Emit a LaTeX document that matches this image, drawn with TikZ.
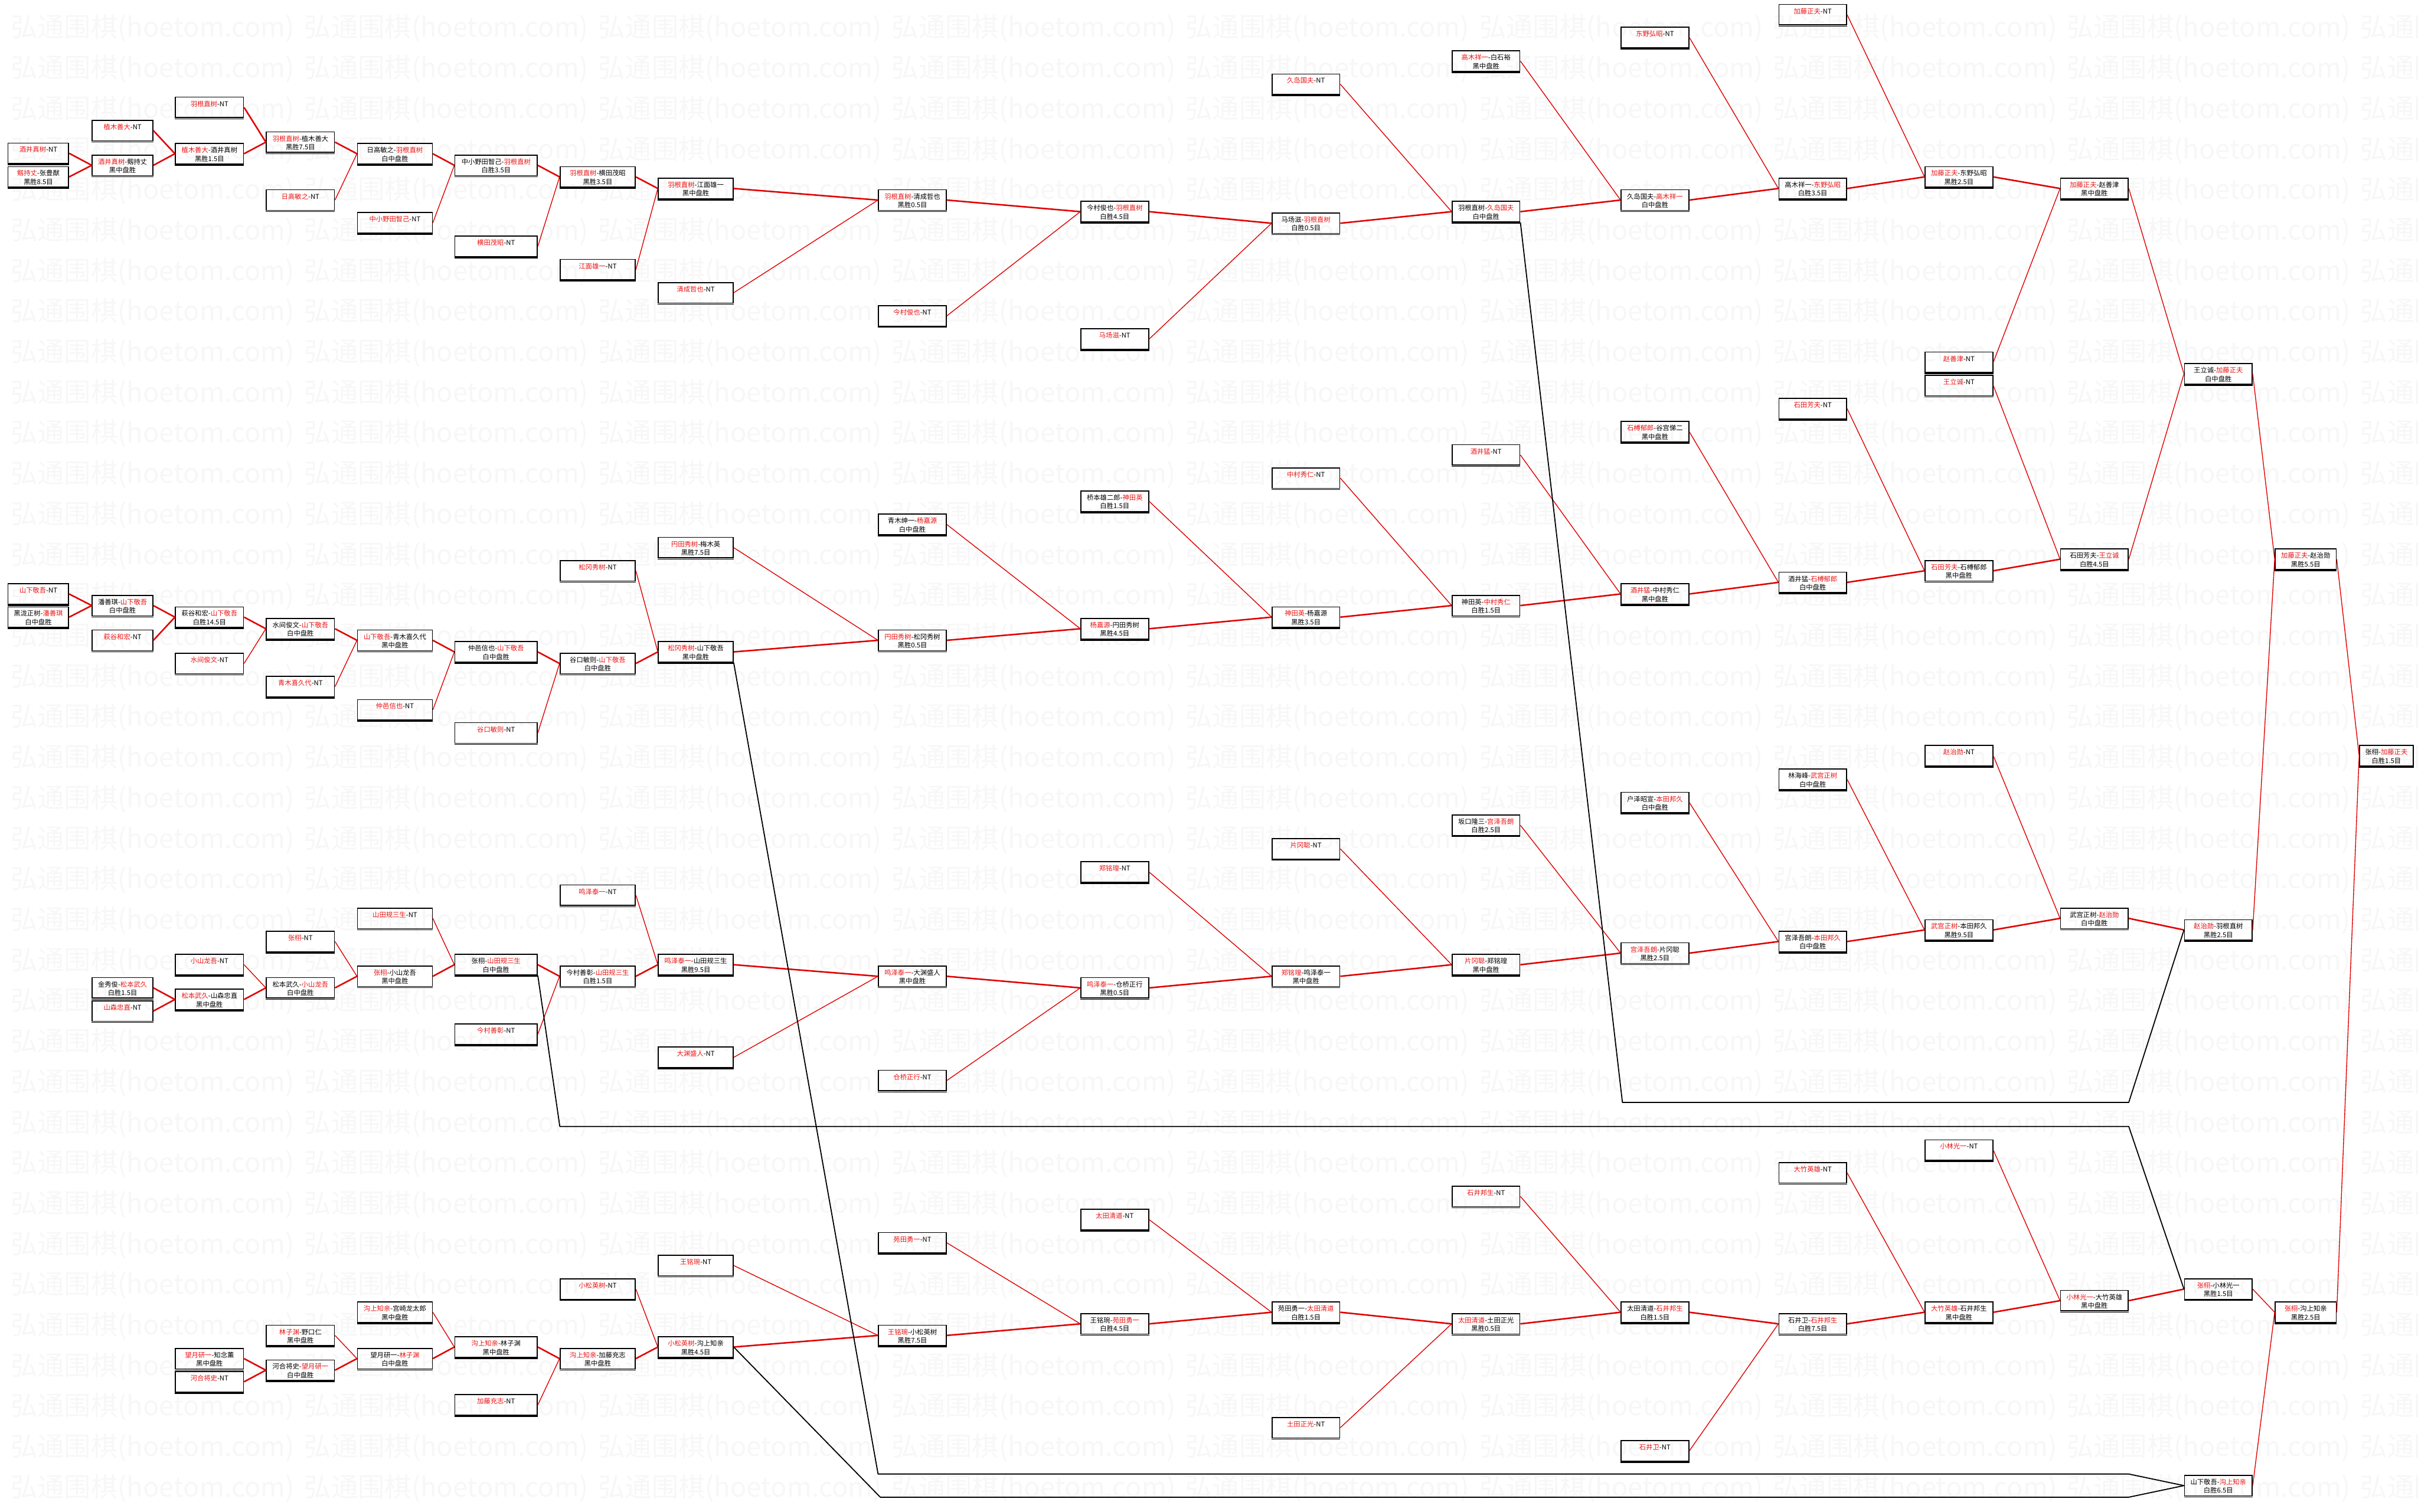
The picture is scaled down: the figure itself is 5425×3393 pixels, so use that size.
\documentclass[tikz,border=0pt]{standalone}
\usepackage{fontspec}
\newfontfamily\cjk{Noto Sans CJK SC}
\definecolor{wred}{RGB}{235,20,20}
\definecolor{lred}{RGB}{225,0,0}
\tikzset{
 gbox/.style={draw=black, line width=2.2pt, minimum height=46pt, inner sep=0pt, align=center,
   font=\cjk\fontsize{15}{19}\selectfont},
 thk/.style={draw=lred, line width=3.4pt},
 thn/.style={draw=lred, line width=1.8pt},
 lose/.style={draw=black, line width=2.4pt, line join=round},
 wm/.style={font=\cjk\fontsize{60}{60}\selectfont, text=black, opacity=0.032, inner sep=0pt, anchor=west},
}
\newcommand\R[1]{\textcolor{wred}{#1}}
\newcommand\G[6]{%
 \node[gbox, minimum width=#4pt] (#1) at (#2,#3) {\rule{0pt}{20pt}#5\\\strut #6};
 \draw[line width=2pt] ([yshift=-1.6pt]#1.south west) -- ([yshift=-1.6pt]#1.south east);}
\newcommand\E[3]{\draw[#1] (#2.east) -- (#3.west);}
\begin{document}
\begin{tikzpicture}[x=1pt,y=-1pt]
\useasboundingbox[fill=white] (0,0) rectangle (5425,3393);
% watermark
\foreach \k in {0,...,37} {\foreach \j in {0,...,8} {\node[wm] at (24+659*\j,64+91*\k) {弘通围棋(hoetom.com)};}}
% ---- top section
\G{n1}{86}{344}{136}{\R{酒井真树}-NT}{}
\G{n2}{86}{397}{136}{\R{剱持丈}-张豊猷}{黑胜8.5目}
\G{n3}{275}{293}{136}{\R{植木善大}-NT}{}
\G{n4}{275}{371}{136}{\R{酒井真树}-剱持丈}{黑中盘胜}
\G{n5}{470}{241}{153}{\R{羽根直树}-NT}{}
\G{n6}{470}{345}{153}{\R{植木善大}-酒井真树}{黑胜1.5目}
\G{n7}{674}{319}{153}{\R{羽根直树}-植木善大}{黑胜7.5目}
\G{n8}{674}{449}{153}{\R{日高敏之}-NT}{}
\G{n9}{886}{345}{168}{日高敏之-\R{羽根直树}}{白中盘胜}
\G{n10}{886}{500}{168}{\R{中小野田智己}-NT}{}
\G{n11}{1113}{371}{185}{中小野田智己-\R{羽根直树}}{白胜3.5目}
\G{n12}{1113}{553}{185}{\R{横田茂昭}-NT}{}
\G{n13}{1341}{397}{169}{\R{羽根直树}-横田茂昭}{黑胜3.5目}
\G{n14}{1341}{605}{169}{\R{江面雄一}-NT}{}
\G{n15}{1561}{423}{168}{\R{羽根直树}-江面雄一}{黑中盘胜}
\G{n16}{1561}{657}{168}{\R{清成哲也}-NT}{}
\G{n17}{2047}{449}{152}{\R{羽根直树}-清成哲也}{黑胜0.5目}
\G{n18}{2047}{709}{152}{\R{今村俊也}-NT}{}
\G{n19}{2501}{475}{152}{今村俊也-\R{羽根直树}}{白胜4.5目}
\G{n20}{2501}{761}{152}{\R{马场滋}-NT}{}
\G{n21}{2930}{501}{152}{马场滋-\R{羽根直树}}{白胜0.5目}
\G{n22}{2930}{189}{152}{\R{久岛国夫}-NT}{}
\G{n23}{3334}{475}{152}{羽根直树-\R{久岛国夫}}{白中盘胜}
\G{n24}{3334}{137}{152}{\R{高木祥一}-白石裕}{黑中盘胜}
\G{n25}{3713}{449}{152}{久岛国夫-\R{高木祥一}}{白中盘胜}
\G{n26}{3713}{84}{152}{\R{东野弘昭}-NT}{}
\G{n27}{4067}{423}{152}{高木祥一-\R{东野弘昭}}{白胜3.5目}
\G{n28}{4067}{33}{152}{\R{加藤正夫}-NT}{}
\G{n29}{4395}{397}{152}{\R{加藤正夫}-东野弘昭}{黑胜2.5目}
\G{n30}{4699}{423}{152}{\R{加藤正夫}-赵善津}{黑中盘胜}
\G{n31}{4395}{813}{152}{\R{赵善津}-NT}{}
\G{n32}{4395}{865}{152}{\R{王立诚}-NT}{}
\G{n33}{4977}{839}{152}{王立诚-\R{加藤正夫}}{白中盘胜}
\G{n34}{4067}{917}{152}{\R{石田芳夫}-NT}{}
\G{n35}{3713}{969}{152}{\R{石榑郁郎}-谷宫悌二}{黑中盘胜}
\G{n36}{3334}{1021}{152}{\R{酒井猛}-NT}{}
\G{n37}{4699}{1255}{152}{石田芳夫-\R{王立诚}}{白胜4.5目}
\G{n38}{5173}{1255}{137}{\R{加藤正夫}-赵治勋}{黑胜5.5目}
\G{n39}{4395}{1281}{152}{\R{石田芳夫}-石榑郁郎}{黑中盘胜}
\G{n40}{4067}{1307}{152}{酒井猛-\R{石榑郁郎}}{白中盘胜}
\G{n41}{3713}{1333}{152}{\R{酒井猛}-中村秀仁}{黑中盘胜}
\G{n42}{3334}{1359}{152}{神田英-\R{中村秀仁}}{白胜1.5目}
\G{n43}{5354}{1696}{120}{张栩-\R{加藤正夫}}{白胜1.5目}
\G{n44}{2930}{1073}{152}{\R{中村秀仁}-NT}{}
\G{n45}{2501}{1125}{152}{桥本雄二郎-\R{神田英}}{白胜1.5目}
\G{n46}{2047}{1177}{152}{青木绅一-\R{杨嘉源}}{白中盘胜}
\G{n47}{2930}{1385}{152}{\R{神田英}-杨嘉源}{黑胜3.5目}
\G{n48}{2501}{1411}{152}{\R{杨嘉源}-円田秀树}{黑胜4.5目}
\G{n49}{2047}{1437}{152}{\R{円田秀树}-松冈秀树}{黑胜0.5目}
\G{n50}{1561}{1229}{168}{\R{円田秀树}-梅木英}{黑胜7.5目}
% ---- middle-left
\G{m1}{86}{1333}{136}{\R{山下敬吾}-NT}{}
\G{m2}{86}{1385}{136}{黑泷正树-\R{潘善琪}}{白中盘胜}
\G{m3}{275}{1359}{136}{潘善琪-\R{山下敬吾}}{白中盘胜}
\G{m4}{275}{1437}{136}{\R{萩谷和宏}-NT}{}
\G{m5}{470}{1385}{153}{萩谷和宏-\R{山下敬吾}}{白胜14.5目}
\G{m6}{470}{1489}{153}{\R{水间俊文}-NT}{}
\G{m7}{674}{1411}{153}{水间俊文-\R{山下敬吾}}{白中盘胜}
\G{m8}{674}{1541}{153}{\R{青木喜久代}-NT}{}
\G{m9}{886}{1437}{168}{\R{山下敬吾}-青木喜久代}{黑中盘胜}
\G{m10}{886}{1593}{168}{\R{仲邑信也}-NT}{}
\G{m11}{1113}{1463}{185}{仲邑信也-\R{山下敬吾}}{白中盘胜}
\G{m12}{1113}{1645}{185}{\R{谷口敏则}-NT}{}
\G{m13}{1341}{1489}{169}{谷口敏则-\R{山下敬吾}}{白中盘胜}
\G{m14}{1341}{1281}{169}{\R{松冈秀树}-NT}{}
\G{m15}{1561}{1463}{168}{\R{松冈秀树}-山下敬吾}{黑中盘胜}
% ---- lower-middle
\G{l1}{275}{2217}{136}{金秀俊-\R{松本武久}}{白胜1.5目}
\G{l2}{275}{2269}{136}{\R{山森忠直}-NT}{}
\G{l3}{470}{2165}{153}{\R{小山龙吾}-NT}{}
\G{l4}{470}{2243}{153}{\R{松本武久}-山森忠直}{黑中盘胜}
\G{l5}{674}{2113}{153}{\R{张栩}-NT}{}
\G{l6}{674}{2217}{153}{松本武久-\R{小山龙吾}}{白中盘胜}
\G{l7}{886}{2061}{168}{\R{山田规三生}-NT}{}
\G{l8}{886}{2191}{168}{\R{张栩}-小山龙吾}{黑中盘胜}
\G{l9}{1113}{2165}{185}{张栩-\R{山田规三生}}{白中盘胜}
\G{l10}{1113}{2321}{185}{\R{今村善彰}-NT}{}
\G{l11}{1341}{2191}{169}{今村善彰-\R{山田规三生}}{白胜1.5目}
\G{l12}{1341}{2009}{169}{\R{鸣泽泰一}-NT}{}
\G{l13}{1561}{2165}{168}{\R{鸣泽泰一}-山田规三生}{黑胜9.5目}
\G{l14}{1561}{2373}{168}{\R{大渊盛人}-NT}{}
\G{l15}{2047}{2191}{152}{\R{鸣泽泰一}-大渊盛人}{黑中盘胜}
\G{l16}{2047}{2425}{152}{\R{仓桥正行}-NT}{}
\G{l17}{2501}{2217}{152}{\R{鸣泽泰一}-仓桥正行}{黑胜0.5目}
\G{l18}{2501}{1957}{152}{\R{郑铭瑝}-NT}{}
\G{l19}{2930}{2191}{152}{\R{郑铭瑝}-鸣泽泰一}{黑中盘胜}
\G{l20}{2930}{1905}{152}{\R{片冈聪}-NT}{}
\G{l21}{3334}{2165}{152}{\R{片冈聪}-郑铭瑝}{黑中盘胜}
\G{l22}{3334}{1852}{152}{坂口隆三-\R{宫泽吾朗}}{白胜2.5目}
\G{l23}{3713}{2139}{152}{\R{宫泽吾朗}-片冈聪}{黑胜2.5目}
\G{l24}{3713}{1801}{152}{户泽昭宣-\R{本田邦久}}{白中盘胜}
\G{l25}{4067}{2113}{152}{宫泽吾朗-\R{本田邦久}}{白中盘胜}
\G{l26}{4067}{1749}{152}{林海峰-\R{武宫正树}}{白中盘胜}
\G{l27}{4395}{2087}{152}{\R{武宫正树}-本田邦久}{黑胜9.5目}
\G{l28}{4395}{1696}{152}{\R{赵治勋}-NT}{}
\G{l29}{4699}{2061}{152}{武宫正树-\R{赵治勋}}{白中盘胜}
\G{l30}{4977}{2087}{152}{\R{赵治勋}-羽根直树}{黑胜2.5目}
% ---- bottom
\G{b1}{470}{3049}{153}{\R{望月研一}-知念薰}{黑中盘胜}
\G{b2}{470}{3101}{153}{\R{河合将史}-NT}{}
\G{b3}{674}{2997}{153}{\R{林子渊}-野口仁}{黑中盘胜}
\G{b4}{674}{3075}{153}{河合将史-\R{望月研一}}{白中盘胜}
\G{b5}{886}{2945}{168}{\R{沟上知亲}-宫崎龙太郎}{黑中盘胜}
\G{b6}{886}{3049}{168}{望月研一-\R{林子渊}}{白中盘胜}
\G{b7}{1113}{3023}{185}{\R{沟上知亲}-林子渊}{黑中盘胜}
\G{b8}{1113}{3153}{185}{\R{加藤充志}-NT}{}
\G{b9}{1341}{2893}{169}{\R{小松英树}-NT}{}
\G{b10}{1341}{3049}{169}{\R{沟上知亲}-加藤充志}{黑中盘胜}
\G{b11}{1561}{3023}{168}{\R{小松英树}-沟上知亲}{黑胜4.5目}
\G{b12}{1561}{2840}{168}{\R{王铭琬}-NT}{}
\G{b13}{2047}{2997}{152}{\R{王铭琬}-小松英树}{黑胜7.5目}
\G{b14}{2047}{2789}{152}{\R{苑田勇一}-NT}{}
\G{b15}{2501}{2971}{152}{王铭琬-\R{苑田勇一}}{白胜4.5目}
\G{b16}{2501}{2737}{152}{\R{太田清道}-NT}{}
\G{b17}{2930}{2945}{152}{苑田勇一-\R{太田清道}}{白胜1.5目}
\G{b18}{2930}{3204}{152}{\R{土田正光}-NT}{}
\G{b19}{3334}{2971}{152}{\R{太田清道}-土田正光}{黑胜0.5目}
\G{b20}{3334}{2685}{152}{\R{石井邦生}-NT}{}
\G{b21}{3713}{2945}{152}{太田清道-\R{石井邦生}}{白胜1.5目}
\G{b22}{3713}{3256}{152}{\R{石井卫}-NT}{}
\G{b23}{4067}{2971}{152}{石井卫-\R{石井邦生}}{白胜7.5目}
\G{b24}{4067}{2632}{152}{\R{大竹英雄}-NT}{}
\G{b25}{4395}{2945}{152}{\R{大竹英雄}-石井邦生}{黑中盘胜}
\G{b26}{4395}{2581}{152}{\R{小林光一}-NT}{}
\G{b27}{4699}{2919}{152}{\R{小林光一}-大竹英雄}{黑中盘胜}
\G{b28}{4977}{2893}{152}{\R{张栩}-小林光一}{黑胜1.5目}
\G{b29}{4977}{3334}{152}{山下敬吾-\R{沟上知亲}}{白胜6.5目}
\G{b30}{5173}{2945}{137}{\R{张栩}-沟上知亲}{黑胜2.5目}
% ---- connectors (top)
\E{thk}{n1}{n4}\E{thk}{n2}{n4}\E{thk}{n3}{n6}\E{thk}{n4}{n6}
\E{thk}{n5}{n7}\E{thk}{n6}{n7}\E{thk}{n7}{n9}\E{thn}{n8}{n9}
\E{thk}{n9}{n11}\E{thn}{n10}{n11}\E{thk}{n11}{n13}\E{thn}{n12}{n13}
\E{thk}{n13}{n15}\E{thn}{n14}{n15}\E{thk}{n15}{n17}\E{thn}{n16}{n17}
\E{thk}{n17}{n19}\E{thn}{n18}{n19}\E{thk}{n19}{n21}\E{thn}{n20}{n21}
\E{thk}{n21}{n23}\E{thn}{n22}{n23}\E{thk}{n23}{n25}\E{thn}{n24}{n25}
\E{thk}{n25}{n27}\E{thn}{n26}{n27}\E{thk}{n27}{n29}\E{thn}{n28}{n29}
\E{thk}{n29}{n30}\E{thn}{n31}{n30}\E{thn}{n30}{n33}\E{thn}{n37}{n33}
\E{thn}{n32}{n37}\E{thk}{n39}{n37}\E{thn}{n34}{n39}\E{thk}{n40}{n39}
\E{thn}{n35}{n40}\E{thk}{n41}{n40}\E{thn}{n36}{n41}\E{thk}{n42}{n41}
\E{thn}{n44}{n42}\E{thk}{n47}{n42}\E{thn}{n45}{n47}\E{thk}{n48}{n47}
\E{thn}{n46}{n48}\E{thk}{n49}{n48}\E{thn}{n50}{n49}\E{thk}{m15}{n49}
\E{thn}{n33}{n38}\E{thn}{l30}{n38}\E{thn}{n38}{n43}\E{thn}{b30}{n43}
% middle-left
\E{thk}{m1}{m3}\E{thk}{m2}{m3}\E{thk}{m3}{m5}\E{thk}{m4}{m5}
\E{thk}{m5}{m7}\E{thn}{m6}{m7}\E{thk}{m7}{m9}\E{thn}{m8}{m9}
\E{thk}{m9}{m11}\E{thn}{m10}{m11}\E{thk}{m11}{m13}\E{thn}{m12}{m13}
\E{thk}{m13}{m15}\E{thn}{m14}{m15}
% lower-middle
\E{thk}{l1}{l4}\E{thk}{l2}{l4}\E{thn}{l3}{l6}\E{thk}{l4}{l6}
\E{thn}{l5}{l8}\E{thk}{l6}{l8}\E{thn}{l7}{l9}\E{thk}{l8}{l9}
\E{thk}{l9}{l11}\E{thn}{l10}{l11}\E{thk}{l11}{l13}\E{thn}{l12}{l13}
\E{thk}{l13}{l15}\E{thn}{l14}{l15}\E{thk}{l15}{l17}\E{thn}{l16}{l17}
\E{thk}{l17}{l19}\E{thn}{l18}{l19}\E{thk}{l19}{l21}\E{thn}{l20}{l21}
\E{thk}{l21}{l23}\E{thn}{l22}{l23}\E{thk}{l23}{l25}\E{thn}{l24}{l25}
\E{thk}{l25}{l27}\E{thn}{l26}{l27}\E{thk}{l27}{l29}\E{thn}{l28}{l29}
\E{thk}{l29}{l30}
% bottom
\E{thk}{b1}{b4}\E{thk}{b2}{b4}\E{thn}{b3}{b6}\E{thk}{b4}{b6}
\E{thn}{b5}{b7}\E{thk}{b6}{b7}\E{thk}{b7}{b10}\E{thn}{b8}{b10}
\E{thn}{b9}{b11}\E{thk}{b10}{b11}\E{thk}{b11}{b13}\E{thn}{b12}{b13}
\E{thk}{b13}{b15}\E{thn}{b14}{b15}\E{thk}{b15}{b17}\E{thn}{b16}{b17}
\E{thk}{b17}{b19}\E{thn}{b18}{b19}\E{thk}{b19}{b21}\E{thn}{b20}{b21}
\E{thk}{b21}{b23}\E{thn}{b22}{b23}\E{thk}{b23}{b25}\E{thn}{b24}{b25}
\E{thk}{b25}{b27}\E{thn}{b26}{b27}\E{thk}{b27}{b28}\E{thn}{b28}{b30}
\E{thn}{b29}{b30}
% loser routes (black)
\coordinate (k1a) at (3640,2474); \coordinate (k1b) at (4776,2474);
\coordinate (k4a) at (1256,2528); \coordinate (k4b) at (4776,2528);
\coordinate (k2a) at (1970,3308); \coordinate (k2b) at (4776,3308);
\coordinate (k3a) at (1975,3360); \coordinate (k3b) at (4776,3360);
\draw[lose] (n23.south east) -- (k1a) -- (k1b) -- (l30.west);
\draw[lose] (l9.south east) -- (k4a) -- (k4b) -- (b28.west);
\draw[lose] (m15.south east) -- (k2a) -- (k2b) -- (b29.west);
\draw[lose] (b11.east) -- (k3a) -- (k3b) -- (b29.west);
\end{tikzpicture}
\end{document}
